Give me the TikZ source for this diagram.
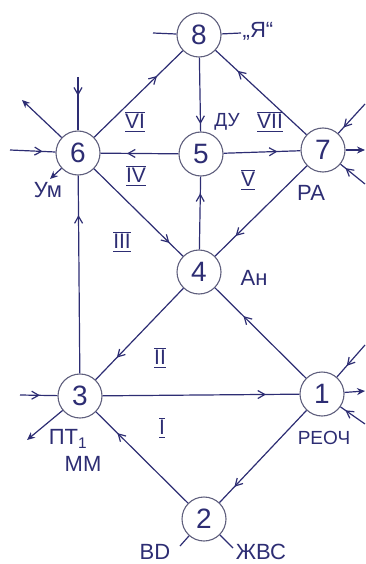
\documentclass[tikz,border=0pt]{standalone}
\usepackage{fontspec}
\setmainfont{Liberation Sans}
\usetikzlibrary{arrows.meta,decorations.markings}
\definecolor{ink}{RGB}{45,45,115}
\definecolor{ring}{RGB}{95,95,125}
\tikzset{
  nd/.style={circle,draw=ring,line width=1.1pt,minimum size=44pt,inner sep=0pt,font=\fontsize{28}{28}\selectfont,text=ink,fill=white},
  edge/.style={draw=ink,line width=1.2pt},
  ma/.style={postaction={decorate,decoration={markings,mark=at position #1 with {\arrow{Straight Barb[length=7pt,width=8pt,line width=1.2pt]}}}}},
  outa/.style={-{Stealth[length=8pt,width=7pt]}},
  lbl/.style={text=ink,font=\fontsize{22}{22}\selectfont,inner sep=0pt},
  slbl/.style={text=ink,font=\fontsize{19}{19}\selectfont,inner sep=0pt},
  rn/.style={text=ink,font=\fontsize{21}{21}\selectfont,inner sep=0pt},
}
\newcommand\romnum[1]{\setbox0=\hbox{#1}\dimen0=\wd0\vbox{\hrule width\dimen0 height1.4pt\kern1.5pt\box0\kern2pt\hrule width\dimen0 height1.4pt}}
\begin{document}
\begin{tikzpicture}[x=1pt,y=-1pt]
\useasboundingbox (0,0) rectangle (365,564);
% nodes
\node[nd] (n8) at (199,35) {8};
\node[nd] (n6) at (78,153) {6};
\node[nd] (n5) at (201,154) {5};
\node[nd] (n7) at (323,150) {7};
\node[nd] (n4) at (199,272) {4};
\node[nd] (n3) at (80,396) {3};
\node[nd] (n1) at (322,394) {1};
\node[nd] (n2) at (204,519) {2};
% internal edges
\draw[edge,ma=0.71] (n6) -- (n8);
\draw[edge,ma=0.76] (n7) -- (n8);
\draw[edge,ma=0.9] (n8) -- (n5);
\draw[edge,ma=0.66] (n5) -- (n6);
\draw[edge,ma=0.7] (n5) -- (n7);
\draw[edge,ma=0.85] (n6) -- (n4);
\draw[edge,ma=0.77] (n4) -- (n5);
\draw[edge,ma=0.78] (n7) -- (n4);
\draw[edge,ma=0.8] (n3) -- (n6);
\draw[edge,ma=0.76] (n4) -- (n3);
\draw[edge,ma=0.69] (n1) -- (n4);
\draw[edge,ma=0.83] (n3) -- (n1);
\draw[edge,ma=0.83] (n1) -- (n2);
\draw[edge,ma=0.77] (n2) -- (n3);
% external coordinates
\coordinate (e8a) at (153,33);
\coordinate (e8b) at (241,33);
\coordinate (e6a) at (78,77);
\coordinate (e6b) at (22,100);
\coordinate (e6c) at (10,150);
\coordinate (e6d) at (50,179);
\coordinate (e7a) at (365,104);
\coordinate (e7b) at (365,150);
\coordinate (e7c) at (365,184);
\coordinate (e1a) at (365,345);
\coordinate (e1b) at (365,391);
\coordinate (e1c) at (365,424);
\coordinate (e3a) at (20,395);
\coordinate (e3b) at (27,440);
\coordinate (e2a) at (180,546);
\coordinate (e2b) at (233,548);
% external edges
\draw[edge] (e8a) -- (n8);
\draw[edge] (n8) -- (e8b);
\draw[edge,ma=0.35] (e6a) -- (n6);
\draw[edge,outa] (n6) -- (e6b);
\draw[edge,ma=0.72] (e6c) -- (n6);
\draw[edge,outa] (n6) -- (e6d);
\draw[edge,ma=0.8] (e7a) -- (n7);
\draw[edge,outa] (n7) -- (e7b);
\draw[edge,ma=0.8] (e7c) -- (n7);
\draw[edge,ma=0.65] (e1a) -- (n1);
\draw[edge,outa] (n1) -- (e1b);
\draw[edge,ma=0.8] (e1c) -- (n1);
\draw[edge,ma=0.53] (e3a) -- (n3);
\draw[edge,outa] (n3) -- (e3b);
\draw[edge] (n2) -- (e2a);
\draw[edge] (n2) -- (e2b);
% labels
\node[lbl] (lya) at (258,31) {„Я“};
\node[lbl] (lum) at (48,190) {Ум};
\node[lbl] (lra) at (311,193) {РА};
\node[lbl] (lan) at (254,278) {Ан};
\node[slbl] (ldu) at (227,122) {ДУ};
\node[lbl] (lpt) at (68,439) {ПТ\textsubscript{1}};
\node[lbl] (lmm) at (83,464) {ММ};
\node[slbl] (lreoch) at (324,438) {РЕОЧ};
\node[lbl] (lbd) at (155,552) {ВD};
\node[lbl] (lzhvs) at (261,552) {ЖВС};
% roman numerals
\node[rn] (r6) at (135,122) {\romnum{VI}};
\node[rn] (r4) at (136,176) {\romnum{IV}};
\node[rn] (r7) at (270,122) {\romnum{VII}};
\node[rn] (r5) at (248,180) {\romnum{V}};
\node[rn] (r3) at (122,242) {\romnum{III}};
\node[rn] (r2) at (160,358) {\romnum{II}};
\node[rn] (r1) at (162,428) {\romnum{I}};
\end{tikzpicture}
\end{document}
